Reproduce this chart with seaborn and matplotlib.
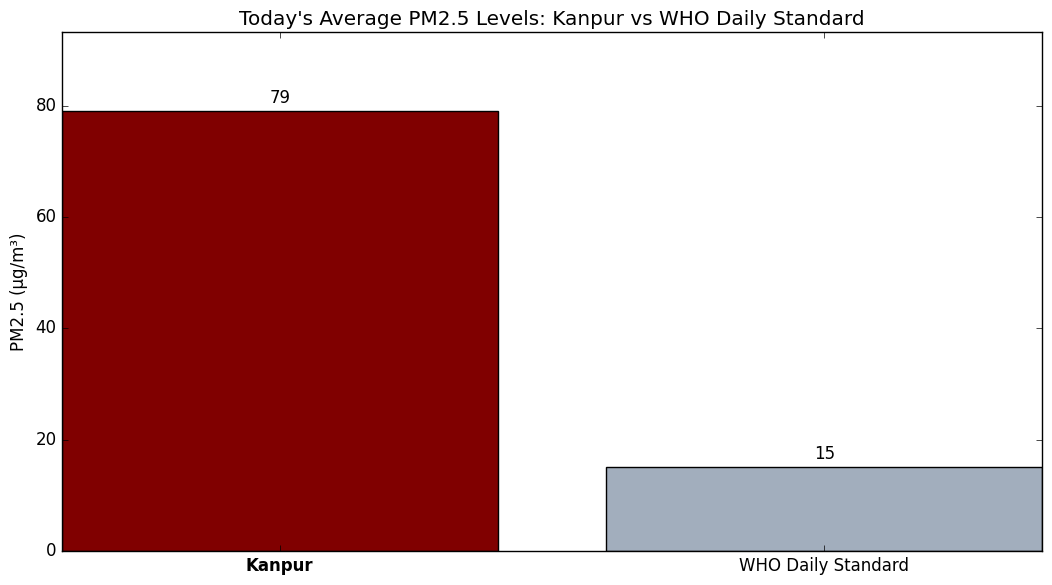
import matplotlib
matplotlib.use("Agg")
import matplotlib.pyplot as plt
import seaborn as sns
import pandas as pd

categories = ["Kanpur", "WHO Daily Standard"]
values = [79, 15]
colors = ["#800000", "#a2aebd"]

plt.style.use("classic")
plt.rcParams["font.family"] = ["DejaVu Sans"]
plt.rcParams["figure.facecolor"] = "white"
plt.rcParams["savefig.facecolor"] = "white"

df = pd.DataFrame({"cat": categories, "val": values})

fig, ax = plt.subplots(figsize=(10.52, 5.85), dpi=100)
sns.barplot(data=df, x="cat", y="val", hue="cat", palette=colors, dodge=False,
            width=0.8, edgecolor="black", linewidth=1, saturation=1, legend=False, ax=ax)
ax.set_xlim(-0.4, 1.4)
ax.set_ylim(0, max(values) * 1.18)
for i, v in enumerate(values):
    ax.annotate(f"{v}", (i, v), xytext=(0, 3), textcoords="offset points",
                ha="center", va="bottom", fontsize=12)
ax.set_xlabel("")
ax.set_ylabel("PM2.5 (µg/m³)", fontsize=12)
ax.set_title("Today's Average PM2.5 Levels: Kanpur vs WHO Daily Standard", fontsize=14.4)
ax.tick_params(labelsize=12)
ax.get_xticklabels()[0].set_fontweight("bold")
fig.subplots_adjust(left=62/1052, right=1042/1052, top=1-32/585, bottom=1-551/585)
fig.savefig("out.png", dpi=100)
